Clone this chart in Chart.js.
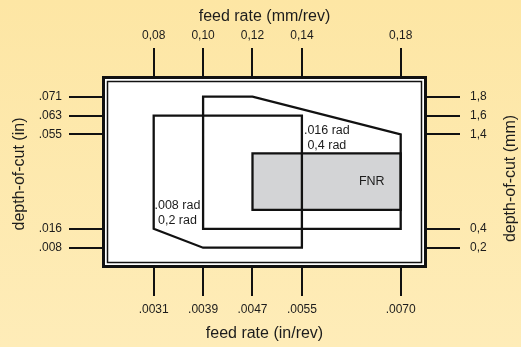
<!DOCTYPE html>
<html>
<head>
<meta charset="utf-8">
<style>
  html, body { margin: 0; padding: 0; background: #fde9ad; }
  #wrap { width: 521px; height: 347px; }
</style>
<script src="https://cdn.jsdelivr.net/npm/chart.js@4/dist/chart.umd.min.js"></script>
</head>
<body>
<div id="wrap"><canvas id="c" width="521" height="347"></canvas></div>
<script>
// Feed rate ticks (mm/rev) and their inch equivalents
const feedMm = [0.08, 0.10, 0.12, 0.14, 0.18];
const feedInLabels = ['.0031', '.0039', '.0047', '.0055', '.0070'];

// Depth-of-cut ticks (mm) and their inch equivalents
const depthMm = [0.2, 0.4, 1.4, 1.6, 1.8];
const depthInLabels = ['.008', '.016', '.055', '.063', '.071'];

// Working window for 0.2 mm (.008 in) nose radius
const rad02Feed  = [0.08, 0.14, 0.14, 0.10, 0.08, 0.08];
const rad02Depth = [1.6, 1.6, 0.2, 0.2, 0.4, 1.6];

// Working window for 0.4 mm (.016 in) nose radius
const rad04Feed  = [0.10, 0.12, 0.18, 0.18, 0.10, 0.10];
const rad04Depth = [1.8, 1.8, 1.4, 0.4, 0.4, 1.8];

// FNR area
const fnrFeed  = [0.12, 0.18, 0.18, 0.12, 0.12];
const fnrDepth = [1.2, 1.2, 0.6, 0.6, 1.2];

const FONT = "'Liberation Sans', Arial, Helvetica, sans-serif";
const INK = '#111111';
const TEXT = '#1c1c1c';

Chart.defaults.font.family = FONT;

const pts = (xs, ys) => xs.map((x, i) => ({ x: x, y: ys[i] }));
const fnrTop = Math.max(...fnrDepth);
const fnrBottom = Math.min(...fnrDepth);
// top edge of the FNR box (each corner once), filled down to its bottom edge
const fnrFillEdge = pts(fnrFeed, fnrDepth)
  .filter(p => p.y === fnrTop)
  .filter((p, i, arr) => arr.findIndex(q => q.x === p.x) === i)
  .sort((a, b) => a.x - b.x);

const fmtComma = (v, d) => v.toFixed(d).replace('.', ',');

// background, white plot panel and its double frame
const framePlugin = {
  id: 'frame',
  beforeDraw(chart) {
    const ctx = chart.ctx;
    const { left, right, top, bottom } = chart.chartArea;
    ctx.save();
    const g = ctx.createLinearGradient(0, 0, 0, chart.height);
    g.addColorStop(0, '#fde6a4');
    g.addColorStop(1, '#feecb8');
    ctx.fillStyle = g;
    ctx.fillRect(0, 0, chart.width, chart.height);

    ctx.fillStyle = '#ffffff';
    ctx.fillRect(left, top, right - left, bottom - top);

    ctx.strokeStyle = INK;
    ctx.lineWidth = 3;
    ctx.strokeRect(left + 1.5, top + 1.5, right - left - 3, bottom - top - 3);
    ctx.lineWidth = 1.5;
    ctx.strokeRect(left + 5.5, top + 5.5, right - left - 11, bottom - top - 11);
    ctx.restore();
  }
};

// region captions and the four axis titles
const textPlugin = {
  id: 'texts',
  afterDraw(chart) {
    const ctx = chart.ctx;
    const xs = chart.scales.x;
    const ys = chart.scales.y;
    ctx.save();
    ctx.fillStyle = TEXT;

    ctx.font = '12.5px ' + FONT;
    ctx.textAlign = 'center';
    ctx.textBaseline = 'middle';
    const cx16 = xs.getPixelForValue(0.1501);
    ctx.fillText('.016 rad', cx16, ys.getPixelForValue(1.44));
    ctx.fillText('0,4 rad', cx16, ys.getPixelForValue(1.28));
    const cx08 = xs.getPixelForValue(0.0896);
    ctx.fillText('.008 rad', cx08, ys.getPixelForValue(0.645));
    ctx.fillText('0,2 rad', cx08, ys.getPixelForValue(0.483));
    ctx.fillText('FNR', xs.getPixelForValue(0.1683), ys.getPixelForValue((fnrTop + fnrBottom) / 2));

    ctx.font = '16px ' + FONT;
    ctx.textBaseline = 'alphabetic';
    const midX = (chart.chartArea.left + chart.chartArea.right) / 2;
    ctx.fillText('feed rate (mm/rev)', midX, 20.5);
    ctx.fillText('feed rate (in/rev)', midX, 337.5);

    ctx.save();
    ctx.translate(24, 174);
    ctx.rotate(-Math.PI / 2);
    ctx.fillText('depth-of-cut (in)', 0, 0);
    ctx.restore();

    ctx.save();
    ctx.translate(514.5, 178.5);
    ctx.rotate(-Math.PI / 2);
    ctx.fillText('depth-of-cut (mm)', 0, 0);
    ctx.restore();

    ctx.restore();
  }
};

const tickFont = { size: 12, family: FONT };
const gridX = { drawOnChartArea: false, drawTicks: true, tickLength: 28, tickWidth: 2, lineWidth: 2, tickColor: INK };
const gridY = { drawOnChartArea: false, drawTicks: true, tickLength: 33, tickWidth: 2, lineWidth: 2, tickColor: INK };

const X_RANGE = { min: 0.05907, max: 0.19065 };
const Y_RANGE = { min: -0.015, max: 2.019 };

const outline = (label, data, order) => ({
  label: label,
  data: data,
  showLine: true,
  borderColor: INK,
  borderWidth: 2.3,
  borderJoinStyle: 'miter',
  borderCapStyle: 'square',
  pointRadius: 0,
  tension: 0,
  fill: false,
  order: order
});

new Chart(document.getElementById('c'), {
  type: 'line',
  data: {
    datasets: [
      outline('.008 rad / 0,2 rad', pts(rad02Feed, rad02Depth), 1),
      outline('.016 rad / 0,4 rad', pts(rad04Feed, rad04Depth), 2),
      outline('FNR outline', pts(fnrFeed, fnrDepth), 3),
      {
        label: 'FNR',
        data: fnrFillEdge,
        borderWidth: 0,
        borderColor: 'rgba(0,0,0,0)',
        backgroundColor: '#d3d4d6',
        pointRadius: 0,
        tension: 0,
        fill: { value: fnrBottom },
        order: 10
      }
    ]
  },
  options: {
    responsive: false,
    animation: false,
    events: [],
    layout: { padding: 0 },
    plugins: { legend: { display: false }, tooltip: { enabled: false } },
    scales: {
      x: {
        type: 'linear', position: 'bottom', min: X_RANGE.min, max: X_RANGE.max,
        afterFit(s) { s.height = 79; },
        afterBuildTicks(s) { s.ticks = feedMm.map(v => ({ value: v })); },
        ticks: { callback: (v, i) => feedInLabels[i], padding: 6, color: TEXT, font: tickFont, maxRotation: 0, autoSkip: false },
        grid: gridX, border: { display: false }
      },
      x2: {
        type: 'linear', position: 'top', min: X_RANGE.min, max: X_RANGE.max,
        afterFit(s) { s.height = 76; },
        afterBuildTicks(s) { s.ticks = feedMm.map(v => ({ value: v })); },
        ticks: { callback: v => fmtComma(v, 2), padding: 5, color: TEXT, font: tickFont, maxRotation: 0, autoSkip: false },
        grid: gridX, border: { display: false }
      },
      y: {
        type: 'linear', position: 'left', min: Y_RANGE.min, max: Y_RANGE.max,
        afterFit(s) { s.width = 102; },
        afterBuildTicks(s) { s.ticks = depthMm.map(v => ({ value: v })); },
        ticks: { callback: (v, i) => depthInLabels[i], padding: 7, color: TEXT, font: tickFont, autoSkip: false },
        grid: gridY, border: { display: false }
      },
      y2: {
        type: 'linear', position: 'right', min: Y_RANGE.min, max: Y_RANGE.max,
        afterFit(s) { s.width = 94; },
        afterBuildTicks(s) { s.ticks = depthMm.map(v => ({ value: v })); },
        ticks: { callback: v => fmtComma(v, 1), padding: 10, color: TEXT, font: tickFont, autoSkip: false },
        grid: gridY, border: { display: false }
      }
    }
  },
  plugins: [framePlugin, textPlugin]
});
</script>
</body>
</html>
